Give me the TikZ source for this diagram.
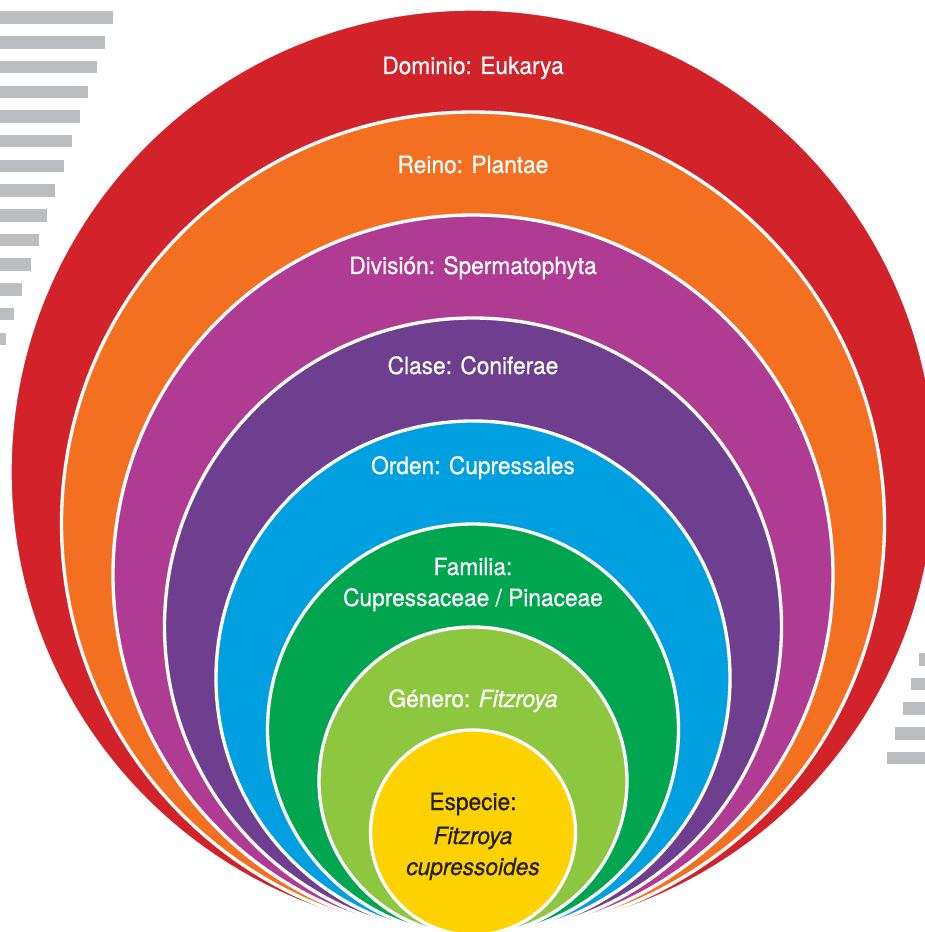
\documentclass[tikz,border=0pt]{standalone}
\usepackage{fontspec}
\setmainfont{TeX Gyre Heros}[FakeStretch=0.95, FakeBold=0.6]
\usetikzlibrary{positioning}
\definecolor{dominio}{HTML}{D2232A}
\definecolor{reino}{HTML}{F37021}
\definecolor{division}{HTML}{B03B93}
\definecolor{clase}{HTML}{6D3F8E}
\definecolor{orden}{HTML}{00A0E0}
\definecolor{familia}{HTML}{00A54F}
\definecolor{genero}{HTML}{8DC63F}
\definecolor{especie}{HTML}{FDD200}
\definecolor{barcol}{HTML}{BCBDC0}
\definecolor{inkdark}{HTML}{231F20}
\tikzset{
  ring/.style={fill=#1, draw=white, line width=1.9pt},
  greybar/.style={fill=barcol, draw=none},
  ranklabel/.style={anchor=base, inner sep=0pt, text=white,
                    font=\fontsize{13.6}{16}\selectfont},
  darklabel/.style={ranklabel, text=inkdark}}

\begin{document}
\begin{tikzpicture}[x=0.02cm, y=-0.02cm]
  \useasboundingbox (0,0) rectangle (925,932);
  \clip (0,0) rectangle (925,932);
  % grey bars, left and right
  \foreach \i in {0,...,13}
    \fill[greybar] (0,{11.5+24.7*\i}) rectangle ({113-8.25*\i},{24+24.7*\i});
  \foreach \i in {0,...,4}
    \fill[greybar] ({919-8*\i},{653+24.7*\i}) rectangle (925,{665.5+24.7*\i});
  % nested rings, all touching at the bottom
  \foreach \r/\col in {463/dominio, 411.5/reino, 360/division, 308.5/clase,
                       257/orden, 205.5/familia, 154/genero, 102.5/especie}
    \draw[ring=\col] (473,{935-\r}) circle[radius=\r];
  % labels
  \node[ranklabel] (dominio) at (473,74) {Dominio: Eukarya};
  \node[ranklabel] (reino) at (473,173) {Reino: Plantae};
  \node[ranklabel] (division) at (473,274) {División: Spermatophyta};
  \node[ranklabel] (clase) at (473,374) {Clase: Coniferae};
  \node[ranklabel] (orden) at (473,474) {Orden: Cupressales};
  \node[ranklabel] (familia) at (473,575) {Familia:};
  \node[ranklabel] (familia2) at (473,606) {Cupressaceae / Pinaceae};
  \node[ranklabel] (genero) at (473,707) {Género: \textit{Fitzroya}};
  \node[darklabel] (especie) at (473,810) {Especie:};
  \node[darklabel] (especie2) at (473,844) {\textit{Fitzroya}};
  \node[darklabel] (especie3) at (473,875) {\textit{cupressoides}};
\end{tikzpicture}
\end{document}
